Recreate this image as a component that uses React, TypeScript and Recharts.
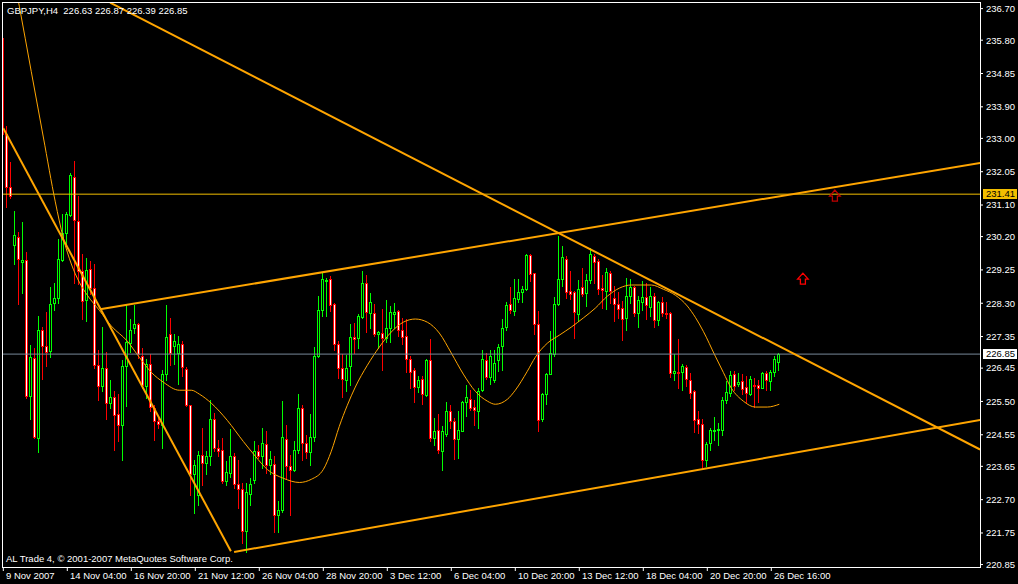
import React from 'react';
import { ComposedChart, Bar, Line, XAxis, YAxis, ReferenceLine, ReferenceDot } from 'recharts';

// ---- H4 candles, GBPJPY (bar 0 = 9 Nov 2007) ----
const opens = [
  235.86, 233.12, 231.62, 229.95, 230.20, 229.48, 229.52, 225.66, 226.73, 224.46,
  227.53, 227.07, 226.93, 228.31, 228.45, 229.52, 230.29, 230.81, 231.90, 230.64,
  229.23, 228.38, 229.27, 228.74, 226.55, 225.93, 226.44, 225.46, 225.62, 225.13,
  224.84, 226.50, 227.17, 227.60, 227.70, 226.81, 225.95, 226.58, 225.31, 224.93,
  224.84, 226.27, 227.41, 227.08, 226.89, 227.15, 226.43, 225.39, 223.43, 222.82,
  223.96, 223.74, 223.94, 225.00, 224.17, 224.13, 223.22, 223.46, 223.94, 223.14,
  223.01, 221.81, 222.87, 223.25, 224.08, 223.94, 224.30, 223.68, 223.72, 222.25,
  222.41, 224.44, 223.65, 223.54, 224.13, 225.30, 224.32, 224.06, 224.49, 226.79,
  228.12, 228.93, 228.98, 228.27, 227.14, 226.46, 226.10, 226.50, 227.33, 227.31,
  227.91, 228.87, 228.03, 228.01, 227.43, 227.45, 227.31, 227.60, 228.00, 228.08,
  227.53, 227.36, 226.70, 226.39, 225.91, 226.13, 225.67, 226.68, 224.46, 224.70,
  224.10, 224.57, 225.22, 224.93, 224.44, 224.67, 225.49, 225.58, 225.33, 225.24,
  225.83, 226.67, 226.20, 226.11, 226.67, 227.07, 227.63, 228.27, 228.08, 228.42,
  228.63, 228.71, 229.68, 229.15, 227.70, 225.00, 225.70, 226.29, 226.86, 228.27,
  228.98, 229.55, 228.65, 228.62, 228.00, 228.76, 228.60, 228.95, 229.65, 229.50,
  228.74, 228.65, 229.15, 228.44, 228.27, 228.17, 227.88, 228.50, 228.76, 228.03,
  228.34, 228.48, 228.20, 228.50, 227.81, 228.33, 228.03, 228.02, 226.30, 226.34,
  226.34, 226.48, 226.11, 225.79, 225.01, 224.87, 223.84, 224.32, 224.65, 224.70,
  224.70, 225.53, 225.74, 226.27, 226.01, 226.08, 225.91, 225.71, 225.96, 225.96,
  225.89, 226.30, 226.08, 226.33, 226.63,
];
const highs = [
  236.02, 233.36, 232.33, 230.93, 230.33, 230.62, 229.77, 227.11, 227.03, 227.93,
  227.62, 228.05, 228.76, 228.87, 230.12, 230.84, 230.90, 232.00, 232.36, 231.36,
  229.69, 229.58, 229.50, 229.41, 226.98, 227.62, 226.91, 226.10, 225.79, 225.70,
  226.67, 228.27, 227.85, 228.25, 227.74, 227.01, 226.70, 226.84, 225.41, 225.08,
  226.41, 228.25, 227.88, 227.42, 227.36, 227.22, 226.48, 225.41, 223.84, 224.08,
  224.74, 224.08, 225.53, 225.17, 224.41, 224.46, 223.79, 224.72, 224.03, 223.84,
  223.17, 223.17, 223.32, 224.36, 224.25, 224.74, 224.65, 224.08, 223.94, 222.65,
  225.51, 224.84, 223.98, 224.36, 225.70, 225.41, 224.55, 225.13, 227.06, 228.50,
  229.17, 229.03, 229.08, 228.31, 227.22, 226.84, 226.82, 227.71, 227.74, 228.00,
  229.22, 229.10, 228.60, 228.27, 227.50, 228.14, 228.39, 228.22, 228.30, 228.12,
  227.88, 227.84, 226.79, 226.46, 226.22, 226.22, 226.71, 227.27, 225.03, 225.13,
  224.79, 225.48, 225.41, 225.03, 225.22, 225.51, 225.98, 225.84, 225.53, 225.89,
  226.96, 226.89, 226.98, 226.98, 227.14, 227.84, 228.33, 228.76, 228.98, 228.98,
  228.79, 229.70, 229.70, 229.17, 228.08, 225.74, 226.31, 227.50, 228.47, 230.22,
  229.93, 229.65, 229.22, 228.65, 228.95, 229.31, 229.12, 229.88, 229.70, 229.55,
  229.10, 229.31, 229.22, 228.79, 228.62, 228.36, 229.03, 228.98, 228.79, 228.50,
  228.93, 228.88, 228.77, 228.60, 228.36, 228.48, 228.33, 228.05, 226.84, 227.27,
  226.57, 226.53, 226.31, 225.84, 225.22, 225.00, 224.34, 224.74, 225.05, 224.89,
  225.62, 226.08, 226.36, 226.38, 226.30, 226.27, 226.22, 226.22, 226.17, 226.10,
  226.34, 226.36, 226.41, 226.79, 226.87,
];
const lows = [
  232.59, 231.03, 231.31, 229.43, 228.28, 228.60, 225.60, 225.00, 224.46, 224.05,
  226.14, 226.50, 226.78, 228.12, 228.31, 229.50, 230.00, 230.79, 228.88, 228.84,
  227.84, 227.79, 228.55, 226.44, 225.53, 225.81, 225.01, 225.31, 224.13, 224.36,
  223.82, 225.38, 226.91, 227.46, 226.74, 225.88, 225.60, 225.22, 224.41, 224.74,
  224.17, 226.10, 226.55, 226.56, 226.00, 226.22, 225.36, 222.84, 222.32, 222.56,
  223.13, 223.43, 223.70, 224.10, 223.94, 223.17, 223.13, 223.36, 223.03, 222.46,
  221.46, 221.22, 222.56, 223.17, 223.89, 223.60, 223.46, 223.42, 221.79, 221.79,
  222.36, 223.32, 222.27, 223.51, 224.03, 223.84, 223.89, 223.70, 224.36, 226.77,
  227.93, 227.93, 228.08, 226.98, 226.17, 225.62, 225.79, 225.98, 226.89, 227.03,
  227.88, 227.48, 227.58, 227.36, 227.03, 226.39, 227.20, 227.20, 227.60, 227.36,
  227.14, 226.34, 225.87, 225.48, 225.77, 225.43, 225.65, 224.36, 224.27, 224.03,
  223.55, 224.51, 224.74, 223.87, 223.89, 224.65, 225.08, 225.27, 224.84, 224.74,
  225.81, 226.13, 226.00, 226.06, 226.38, 226.41, 227.53, 228.03, 227.96, 228.34,
  228.34, 228.68, 228.93, 227.41, 224.65, 224.95, 225.43, 226.27, 226.79, 228.25,
  228.79, 228.46, 228.41, 227.31, 227.79, 228.50, 228.22, 228.88, 228.88, 228.55,
  228.17, 228.14, 228.31, 227.79, 227.88, 227.25, 227.53, 228.31, 227.93, 227.63,
  228.12, 227.84, 227.93, 227.63, 227.67, 227.93, 227.88, 226.20, 226.11, 225.89,
  225.84, 225.95, 225.60, 224.63, 224.60, 223.56, 223.65, 224.13, 224.41, 224.27,
  224.53, 225.46, 225.65, 225.84, 225.93, 225.70, 225.46, 225.68, 225.34, 225.49,
  225.87, 225.84, 225.84, 226.22, 226.39,
];
const closes = [
  233.12, 231.62, 231.37, 230.24, 229.55, 229.53, 225.66, 226.76, 224.50, 227.53,
  227.07, 226.91, 228.29, 228.44, 229.55, 230.29, 230.84, 231.96, 230.66, 229.23,
  228.36, 229.24, 228.74, 226.55, 225.95, 226.44, 225.45, 225.63, 225.10, 224.84,
  226.50, 227.20, 227.55, 227.70, 226.84, 225.96, 226.58, 225.34, 224.93, 224.86,
  226.27, 227.34, 226.87, 227.22, 227.15, 226.48, 225.41, 223.43, 223.68, 223.98,
  223.74, 223.95, 225.00, 224.17, 224.10, 223.22, 223.48, 223.94, 223.14, 223.01,
  221.81, 222.92, 223.14, 224.08, 223.94, 224.31, 223.68, 223.87, 222.27, 222.41,
  224.48, 223.65, 223.54, 224.13, 225.30, 224.32, 224.06, 224.49, 226.79, 228.12,
  228.98, 228.95, 228.25, 227.13, 226.44, 226.13, 226.46, 227.33, 227.28, 227.93,
  228.87, 228.06, 228.33, 227.43, 227.48, 227.30, 227.60, 228.05, 228.04, 227.53,
  227.33, 226.70, 226.34, 225.91, 226.11, 225.70, 226.68, 224.46, 224.67, 224.11,
  224.65, 225.24, 224.95, 224.44, 224.70, 225.48, 225.62, 225.31, 225.26, 225.81,
  226.70, 226.20, 226.81, 226.60, 227.05, 227.60, 228.25, 228.10, 228.44, 228.62,
  228.70, 229.68, 229.12, 227.70, 224.98, 225.70, 226.29, 226.87, 228.29, 228.98,
  229.62, 228.62, 228.57, 228.05, 228.71, 228.57, 228.95, 229.70, 229.48, 228.71,
  228.67, 229.19, 228.65, 228.27, 228.14, 227.86, 228.52, 228.76, 228.03, 228.38,
  228.48, 228.24, 228.50, 227.82, 228.33, 228.03, 228.00, 226.31, 226.36, 226.31,
  226.50, 226.13, 225.74, 224.98, 224.87, 223.84, 224.30, 224.68, 224.70, 224.71,
  225.55, 225.77, 226.25, 225.95, 226.05, 225.86, 225.73, 226.15, 225.93, 225.89,
  226.30, 226.10, 226.33, 226.70, 226.85,
];

// ---- smoothed moving average (thin orange), read at these bars ----
const maBars = [
  3, 4, 7, 10, 13, 15, 17, 19, 21, 24, 27, 31, 34, 37, 40, 44, 47, 49, 52, 56,
  60, 63, 66, 70, 74, 77, 80, 82, 84, 86, 88, 91, 94, 97, 100, 103, 106, 109, 112, 115,
  118, 121, 123, 126, 128, 131, 133, 136, 139, 142, 145, 148, 151, 154, 157, 162, 165, 168, 171, 173,
  175, 178, 180, 182, 185, 188, 191, 194,
];
const maValues = [
  237.38, 236.77, 234.90, 233.04, 231.19, 230.16, 229.42, 228.90, 228.53, 228.10,
  227.65, 227.22, 226.76, 226.33, 226.05, 225.82, 225.82, 225.71, 225.45, 224.96,
  224.36, 223.94, 223.56, 223.31, 223.19, 223.28, 223.56, 224.08, 224.79, 225.39,
  225.91, 226.53, 227.05, 227.48, 227.76, 227.85, 227.76, 227.45, 226.88, 226.28,
  225.79, 225.51, 225.42, 225.56, 225.82, 226.36, 226.76, 227.16, 227.39, 227.62,
  227.88, 228.16, 228.50, 228.73, 228.82, 228.82, 228.70, 228.53, 228.22, 227.90,
  227.50, 226.79, 226.33, 225.88, 225.51, 225.34, 225.34, 225.42,
];

// ---- axis labels ----
const xTickBars = [0, 16, 32, 48, 64, 80, 96, 112, 128, 144, 160, 176, 192];
const xTickLabels = [
  '9 Nov 2007', '14 Nov 04:00', '16 Nov 20:00', '21 Nov 12:00', '26 Nov 04:00',
  '28 Nov 20:00', '3 Dec 12:00', '6 Dec 04:00', '10 Dec 20:00', '13 Dec 12:00',
  '18 Dec 04:00', '20 Dec 20:00', '26 Dec 16:00',
];
const yTicks = [
  236.70, 235.80, 234.85, 233.90, 233.00, 232.05, 231.10, 230.20, 229.25,
  228.30, 227.35, 226.45, 225.50, 224.55, 223.65, 222.70, 221.75, 220.85,
];

// ---- drawn objects ----
const askLevel = 231.41;
const bidLevel = 226.85;
const trendLines = [
  [{ bar: 0, price: 233.29 }, { bar: 56.9, price: 221.23 }],
  [{ bar: 57.7, price: 221.21 }, { bar: 244.2, price: 224.97 }],
  [{ bar: 24.2, price: 228.13 }, { bar: 244.2, price: 232.3 }],
  [{ bar: 26.7, price: 236.87 }, { bar: 244.2, price: 224.13 }],
];
const arrowMarks = [
  { bar: 199.9, price: 229.0, color: '#FF0000' },
  { bar: 207.9, price: 231.37, color: '#C00000' },
];

const titleText = 'GBPJPY,H4  226.63 226.87 226.39 226.85';
const footerText = 'AL Trade 4, \u00A9 2001-2007 MetaQuotes Software Corp.';

const FONT = '"Liberation Sans", Arial, sans-serif';

const data = opens.map((o, i) => ({
  i,
  o,
  h: highs[i],
  l: lows[i],
  c: closes[i],
  ma: null as number | null,
}));
maBars.forEach((b, k) => {
  data[b].ma = maValues[k];
});

// MT4 style: lime / red outlines; bull bodies black, bear bodies white
const Candle = (props: any) => {
  const { x, y, width, height, payload } = props;
  if (x == null || y == null || !payload) return null;
  const { o, h, l, c } = payload;
  const top0 = Math.min(y, y + height);
  const hh = Math.abs(height);
  const span = h - l;
  const ppu = span > 0 ? hh / span : 0;
  const py = (p: number) => top0 + (h - p) * ppu;
  const col = Math.floor(x + width / 2);
  const bull = c >= o;
  const color = bull ? '#00FF00' : '#FF0000';
  const inner = bull ? '#000000' : '#FFFFFF';
  const bt = Math.round(py(Math.max(o, c)));
  const bb = Math.round(py(Math.min(o, c)));
  const yh = Math.round(top0);
  const yl = Math.round(top0 + hh);
  const parts: any[] = [];
  if (bt > yh) parts.push(<rect key="wt" x={col} y={yh} width={1} height={bt - yh} fill={color} />);
  if (yl > bb) parts.push(<rect key="wb" x={col} y={bb + 1} width={1} height={yl - bb} fill={color} />);
  parts.push(<rect key="bo" x={col - 1} y={bt} width={3} height={bb - bt + 1} fill={color} />);
  if (bb - bt >= 2) parts.push(<rect key="bi" x={col} y={bt + 1} width={1} height={bb - bt - 1} fill={inner} />);
  return <g shapeRendering="crispEdges">{parts}</g>;
};

const XTick = (props: any) => {
  const { x, payload } = props;
  const idx = xTickBars.indexOf(payload.value);
  if (idx < 0) return null;
  return (
    <text x={Math.floor(x) + 3} y={579} fill="#FFFFFF" fontSize={9.5} fontFamily={FONT}>
      {xTickLabels[idx]}
    </text>
  );
};

const PriceTag = (props: any) => {
  const { viewBox, text, fill } = props;
  if (!viewBox) return null;
  const y = Math.round(viewBox.y);
  const bx = viewBox.x + viewBox.width + 3;
  return (
    <g>
      <rect x={bx} y={y - 5} width={34} height={10} fill={fill} />
      <text x={bx + 3} y={y} dy="0.36em" fontSize={9.5} fill="#000" fontFamily={FONT}>
        {text}
      </text>
    </g>
  );
};

const ArrowShape = (props: any) => {
  const { cx, cy, color } = props;
  if (cx == null) return null;
  const pts = [
    [cx, cy - 5.5],
    [cx + 5.3, cy + 0.5],
    [cx + 2.5, cy + 0.5],
    [cx + 2.5, cy + 5.5],
    [cx - 2.5, cy + 5.5],
    [cx - 2.5, cy + 0.5],
    [cx - 5.3, cy + 0.5],
  ]
    .map((p) => p.join(','))
    .join(' ');
  return <polygon points={pts} fill="none" stroke={color} strokeWidth={1.3} />;
};

export default function App() {
  return (
    <div style={{ position: 'absolute', left: 0, top: 0, width: 1018, height: 584, background: '#000', overflow: 'hidden' }}>
      <ComposedChart
        width={1018}
        height={584}
        data={data}
        margin={{ top: 3, right: 0, bottom: 0, left: 3 }}
        style={{ background: '#000' }}
      >
        <XAxis
          dataKey="i"
          type="number"
          domain={[-0.075, 244.175]}
          allowDataOverflow
          ticks={xTickBars}
          interval={0}
          height={17}
          axisLine={false}
          tickLine={{ stroke: '#FFFFFF' }}
          tickSize={4}
          tick={<XTick />}
        />
        <YAxis
          orientation="right"
          width={38}
          domain={[220.78, 236.86]}
          allowDataOverflow
          ticks={yTicks}
          interval={0}
          axisLine={false}
          tickLine={{ stroke: '#FFFFFF' }}
          tickSize={3}
          tickMargin={3}
          tickFormatter={(v: number) => v.toFixed(2)}
          tick={{ fill: '#FFFFFF', fontSize: 9.5, fontFamily: FONT }}
        />
        <Bar
          dataKey={(d: any) => [d.l, d.h]}
          barSize={3}
          fill="#000000"
          shape={<Candle />}
          isAnimationActive={false}
        />
        <Line
          dataKey="ma"
          type="monotone"
          connectNulls
          dot={false}
          stroke="#FFA500"
          strokeWidth={1}
          isAnimationActive={false}
        />
        <ReferenceLine
          y={askLevel}
          stroke="#F2BE00"
          strokeWidth={1}
          label={(p: any) => <PriceTag {...p} text={askLevel.toFixed(2)} fill="#F2BE00" />}
        />
        <ReferenceLine
          y={bidLevel}
          stroke="#778899"
          strokeWidth={1}
          label={(p: any) => <PriceTag {...p} text={bidLevel.toFixed(2)} fill="#FFFFFF" />}
        />
        {trendLines.map((seg, k) => (
          <ReferenceLine
            key={'t' + k}
            segment={[
              { x: seg[0].bar, y: seg[0].price },
              { x: seg[1].bar, y: seg[1].price },
            ]}
            stroke="#FFA500"
            strokeWidth={2}
            ifOverflow="hidden"
          />
        ))}
        {arrowMarks.map((a, k) => (
          <ReferenceDot
            key={'a' + k}
            x={a.bar}
            y={a.price}
            r={5}
            ifOverflow="visible"
            shape={(p: any) => <ArrowShape {...p} color={a.color} />}
          />
        ))}
      </ComposedChart>
      <svg width={1018} height={584} style={{ position: 'absolute', left: 0, top: 0, pointerEvents: 'none' }}>
        <rect x={2.5} y={2.5} width={978} height={565} fill="none" stroke="#FFFFFF" strokeWidth={1} shapeRendering="crispEdges" />
        <text x={7} y={14} fill="#FFFFFF" fontSize={9.5} fontFamily={FONT} style={{ whiteSpace: 'pre' }}>
          {titleText}
        </text>
        <text x={6} y={562} fill="#FFFFFF" fontSize={9.5} fontFamily={FONT}>
          {footerText}
        </text>
      </svg>
    </div>
  );
}
